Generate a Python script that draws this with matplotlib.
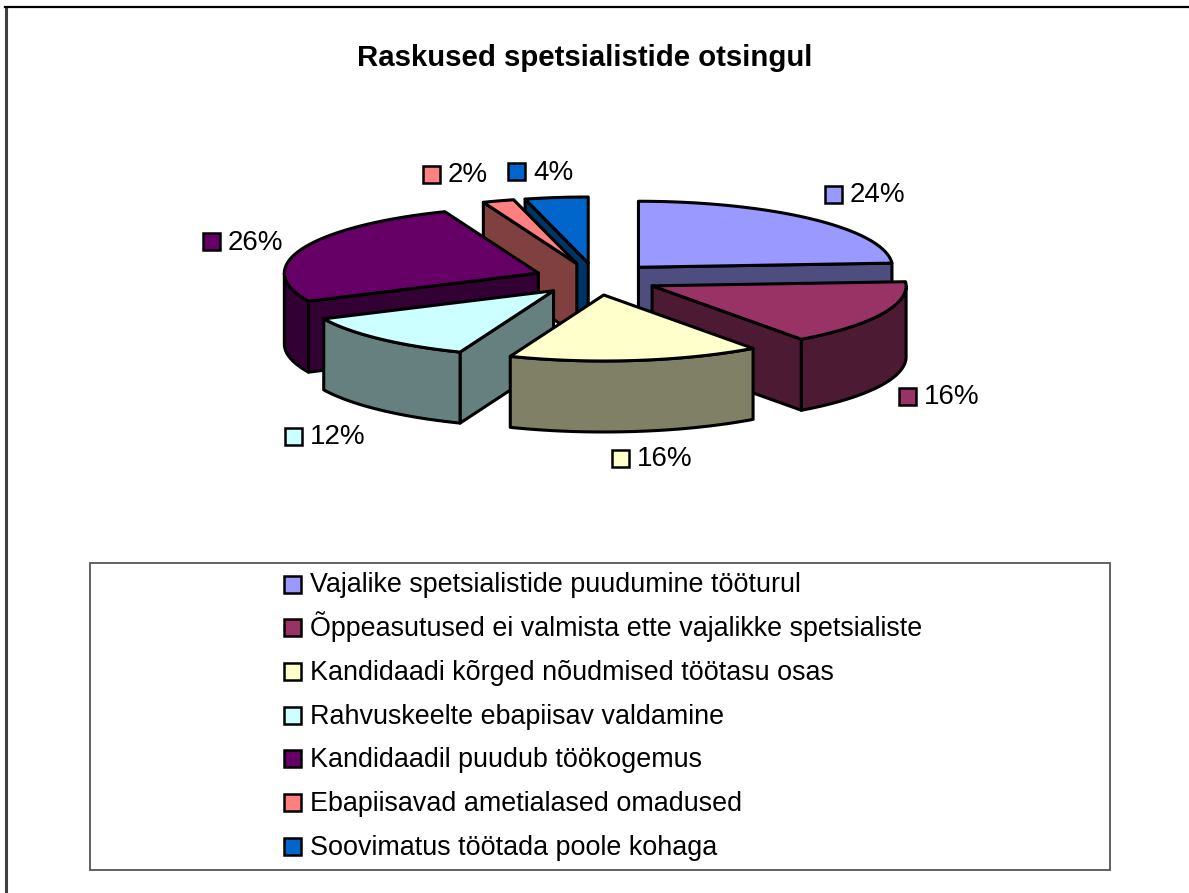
import numpy as np
import matplotlib

matplotlib.use("Agg")
import matplotlib.pyplot as plt
from matplotlib.patches import Polygon, Rectangle
from matplotlib.colors import to_rgb

plt.rcParams["font.family"] = ["Liberation Sans", "DejaVu Sans"]

title = "Raskused spetsialistide otsingul"
categories = [
    "Vajalike spetsialistide puudumine tööturul",
    "Õppeasutused ei valmista ette vajalikke spetsialiste",
    "Kandidaadi kõrged nõudmised töötasu osas",
    "Rahvuskeelte ebapiisav valdamine",
    "Kandidaadil puudub töökogemus",
    "Ebapiisavad ametialased omadused",
    "Soovimatus töötada poole kohaga",
]
values = [24, 16, 16, 12, 26, 2, 4]
colors = ["#9999FF", "#993366", "#FFFFCC", "#CCFFFF", "#660066", "#FF8080", "#0066CC"]

# pie geometry, in pixels of the 1189x893 canvas
CX, CY = 596, 279
RX, RY = 254, 66
DEPTH = 71
EXPLODE = 62 / 254
DRAW_ORDER = [6, 5, 0, 4, 1, 3, 2]

# where the data labels sit (square left, centre y)
label_pos = [(825, 194), (899, 396), (612, 458), (285, 436), (203, 241), (423, 174), (508, 171)]
LEGEND_Y0, LEGEND_STEP = 584, 43.7


def rim(cx, cy, deg):
    t = np.radians(deg)
    return cx + RX * np.sin(t), cy - RY * np.cos(t)


def face(ax, pts, color, z):
    ax.add_patch(Polygon(pts, closed=True, facecolor=color, edgecolor="black",
                         linewidth=2.2, joinstyle="round", zorder=z))


def draw_slice(ax, a0, a1, color, z):
    mid = (a0 + a1) / 2
    cx, cy = rim(CX, CY, mid)
    cx = CX + (cx - CX) * EXPLODE
    cy = CY + (cy - CY) * EXPLODE
    dark = tuple(c * 0.5 for c in to_rgb(color))

    # cut faces, only those turned to the viewer
    for a, show in ((a0, 180 < a0 < 360), (a1, 0 < a1 < 180)):
        if show:
            x, y = rim(cx, cy, a)
            face(ax, [(cx, cy), (x, y), (x, y + DEPTH), (cx, cy + DEPTH)], dark, z)

    # outer wall, front half of the ellipse only
    lo, hi = max(a0, 90), min(a1, 270)
    if lo < hi:
        th = np.linspace(lo, hi, 60)
        xs, ys = rim(cx, cy, th)
        pts = list(zip(xs, ys)) + list(zip(xs[::-1], ys[::-1] + DEPTH))
        face(ax, pts, dark, z + 0.1)

    th = np.linspace(a0, a1, 80)
    xs, ys = rim(cx, cy, th)
    face(ax, [(cx, cy)] + list(zip(xs, ys)), color, z + 0.2)


fig = plt.figure(figsize=(11.89, 8.93), dpi=100)
ax = fig.add_axes([0, 0, 1, 1])
ax.set_xlim(0, 1189)
ax.set_ylim(893, 0)
ax.axis("off")

# chart frame, only top and left show
ax.plot([6, 6], [8, 893], color="#404040", lw=2.2)
ax.plot([5, 1189], [7, 7], color="black", lw=1.6)

ax.text(584.5, 66, title, ha="center", va="baseline", fontsize=21.2, fontweight="bold")

edges = np.cumsum([0] + values) / sum(values) * 360
for z, i in enumerate(DRAW_ORDER):
    draw_slice(ax, edges[i], edges[i + 1], colors[i], 2 + z)

for i, (x, y) in enumerate(label_pos):
    ax.add_patch(Rectangle((x, y - 8.5), 17, 17, facecolor=colors[i], edgecolor="black", lw=1.8, zorder=20))
    ax.text(x + 25, y + 8.5, f"{values[i]}%", ha="left", va="baseline", fontsize=20, color="black", zorder=20)

ax.add_patch(Rectangle((90, 563), 1020, 307, facecolor="white", edgecolor="#555555", lw=1.3, zorder=1))
for i, cat in enumerate(categories):
    y = LEGEND_Y0 + i * LEGEND_STEP
    ax.add_patch(Rectangle((284, y - 8.5), 17, 17, facecolor=colors[i], edgecolor="black", lw=1.8, zorder=20))
    ax.text(310, y + 8.5, cat, ha="left", va="baseline", fontsize=19.4, color="black", zorder=20)

fig.savefig("out.png", dpi=100)
plt.close(fig)
